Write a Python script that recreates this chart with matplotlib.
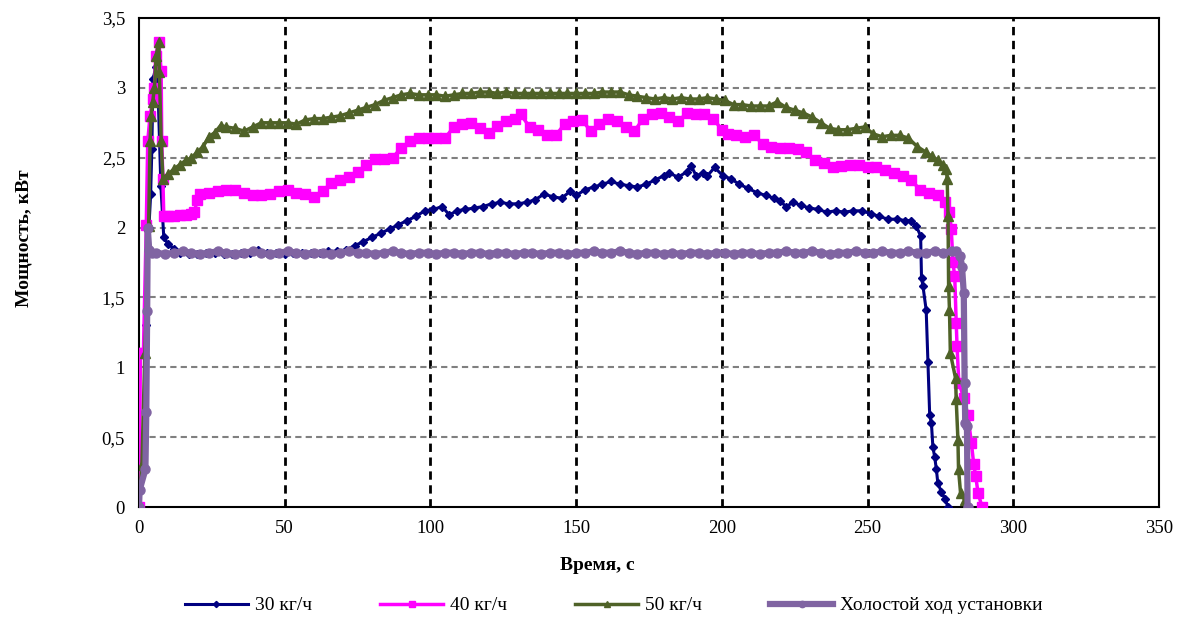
import matplotlib
matplotlib.use("Agg")
import matplotlib.pyplot as plt
from matplotlib.ticker import FixedLocator, FuncFormatter

plt.rcParams['font.family'] = ['Liberation Serif', 'DejaVu Serif']

# --------------------
# Data
# --------------------
# 30 kg/h
t30 = [0, 1.5, 2.5, 3.4, 4.0, 4.4, 4.8, 5.8, 6.5, 7.5, 8.5, 10, 12, 14, 17, 20, 23, 26, 29, 32,
       35, 38, 41, 44, 47, 50, 53, 56, 59, 62, 65, 68, 71, 74, 77, 80, 83, 86, 89, 92,
       95, 98, 101, 104, 106.5, 109, 112, 115, 118, 121, 124, 127, 130, 133, 136, 139, 142, 145, 148, 150,
       153, 156, 159, 162, 165, 168, 171, 174, 177, 180, 182, 185, 188, 189.5, 191.2, 193.5, 195, 197.5, 200.4, 203,
       206, 209, 212, 215, 218, 220, 222, 224.5, 227, 230, 233, 236, 239, 242, 245, 248, 251, 254, 257, 260,
       263, 265, 266.7, 268.2, 268.5, 269, 270.1, 270.7, 271.3, 271.9, 272.4, 273, 273.6, 274.1, 275.3, 276.5, 277.6]
p30 = [0, 0.5, 1.3, 2.0, 2.24, 2.56, 3.06, 3.15, 3.0, 2.3, 1.93, 1.88, 1.85, 1.82, 1.81, 1.81, 1.82, 1.82, 1.81, 1.81,
       1.82, 1.82, 1.84, 1.82, 1.82, 1.81, 1.82, 1.82, 1.82, 1.82, 1.83, 1.83, 1.84, 1.87, 1.90, 1.93, 1.96, 1.99, 2.02, 2.05,
       2.08, 2.12, 2.13, 2.15, 2.09, 2.12, 2.13, 2.14, 2.15, 2.17, 2.18, 2.17, 2.17, 2.18, 2.20, 2.24, 2.22, 2.21, 2.26, 2.23,
       2.27, 2.29, 2.31, 2.33, 2.31, 2.30, 2.29, 2.31, 2.34, 2.37, 2.39, 2.36, 2.40, 2.44, 2.37, 2.39, 2.37, 2.43, 2.37, 2.35,
       2.31, 2.28, 2.25, 2.23, 2.21, 2.19, 2.15, 2.18, 2.16, 2.14, 2.13, 2.11, 2.12, 2.11, 2.12, 2.12, 2.10, 2.08, 2.06, 2.06,
       2.05, 2.05, 2.01, 1.94, 1.64, 1.58, 1.41, 1.04, 0.66, 0.60, 0.43, 0.36, 0.27, 0.17, 0.11, 0.06, 0.0]

# 40 kg/h
t40 = [0, 0.5, 1.5, 2.5, 3.0, 3.8, 4.7, 5.3, 5.7, 6.8, 7.6, 7.8, 8.2, 8.5, 10, 12, 14, 16, 18, 19,
       20, 21, 24, 27, 30, 33, 36, 39, 42, 45, 48, 51, 54, 57, 60, 63, 66, 69, 72, 75,
       78, 81, 84, 87, 90, 93, 96, 99, 102, 105, 108, 111, 114, 117, 120, 123, 126, 129, 131, 134,
       137, 140, 143, 146, 149, 152, 155, 158, 161, 164, 167, 170, 173, 176, 179, 182, 185, 188, 191, 194,
       197, 200, 202, 205, 208, 211, 214, 217, 220, 223, 226, 229, 232, 235, 238, 241, 244, 247, 250, 253,
       256, 259, 262, 265, 268, 271, 274, 276.5, 278.1, 278.7, 279.3, 279.9, 280.4, 280.7, 281.3, 283, 284.4, 285.6, 286.4, 287.1,
       287.9, 289.3]
p40 = [0, 1.10, 1.10, 2.02, 2.62, 2.80, 2.92, 3.00, 3.23, 3.33, 3.12, 2.62, 2.35, 2.08, 2.08, 2.08, 2.09, 2.09, 2.10, 2.11,
       2.20, 2.24, 2.25, 2.26, 2.27, 2.27, 2.25, 2.23, 2.23, 2.24, 2.26, 2.27, 2.25, 2.24, 2.22, 2.26, 2.32, 2.34, 2.36, 2.40,
       2.45, 2.49, 2.49, 2.50, 2.57, 2.62, 2.64, 2.64, 2.64, 2.64, 2.72, 2.74, 2.75, 2.71, 2.68, 2.73, 2.76, 2.78, 2.81, 2.72,
       2.70, 2.66, 2.66, 2.74, 2.76, 2.77, 2.69, 2.74, 2.78, 2.76, 2.72, 2.69, 2.78, 2.81, 2.82, 2.79, 2.76, 2.82, 2.81, 2.81,
       2.78, 2.70, 2.67, 2.66, 2.65, 2.66, 2.60, 2.58, 2.57, 2.57, 2.56, 2.54, 2.48, 2.46, 2.43, 2.44, 2.45, 2.45, 2.43, 2.43,
       2.41, 2.39, 2.37, 2.34, 2.27, 2.25, 2.23, 2.18, 2.11, 1.99, 1.75, 1.65, 1.32, 1.15, 0.89, 0.78, 0.66, 0.46, 0.31, 0.22,
       0.10, 0.0]

# 50 kg/h
t50 = [0, 1, 2, 3.3, 3.8, 4.2, 4.7, 5.3, 5.9, 6.8, 7.0, 7.6, 8.2, 10, 12, 14, 16, 18, 20, 22,
       24, 26, 28, 30, 33, 36, 39, 42, 45, 48, 51, 54, 57, 60, 63, 66, 69, 72, 75, 78,
       81, 84, 87, 90, 93, 96, 99, 102, 105, 108, 111, 114, 117, 120, 123, 126, 129, 132, 135, 138,
       141, 144, 147, 150, 153, 156, 159, 162, 165, 168, 171, 174, 177, 180, 183, 186, 189, 192, 195, 198,
       201, 204, 207, 210, 213, 216, 219, 222, 225, 228, 231, 234, 237, 240, 243, 246, 249, 252, 255, 258,
       261, 264, 267, 270, 272, 274, 276, 277, 277.3, 277.6, 277.8, 278.1, 278.4, 280.2, 280.4, 281, 281.2, 281.9, 283.3, 283.6]
p50 = [0, 0.3, 1.1, 2.01, 2.62, 2.80, 2.90, 3.00, 3.23, 3.33, 3.11, 2.62, 2.35, 2.38, 2.42, 2.45, 2.48, 2.50, 2.54, 2.58,
       2.65, 2.68, 2.73, 2.72, 2.71, 2.69, 2.72, 2.75, 2.75, 2.75, 2.75, 2.74, 2.77, 2.78, 2.78, 2.79, 2.80, 2.82, 2.84, 2.86,
       2.88, 2.91, 2.93, 2.95, 2.96, 2.95, 2.95, 2.95, 2.94, 2.95, 2.96, 2.96, 2.97, 2.97, 2.96, 2.97, 2.96, 2.96, 2.96, 2.96,
       2.96, 2.96, 2.96, 2.96, 2.96, 2.96, 2.97, 2.97, 2.97, 2.95, 2.94, 2.93, 2.92, 2.93, 2.92, 2.93, 2.92, 2.92, 2.93, 2.92,
       2.91, 2.88, 2.88, 2.87, 2.87, 2.87, 2.90, 2.86, 2.84, 2.82, 2.79, 2.75, 2.71, 2.70, 2.70, 2.71, 2.72, 2.67, 2.65, 2.66,
       2.66, 2.64, 2.58, 2.54, 2.51, 2.48, 2.45, 2.42, 2.35, 2.08, 1.58, 1.41, 1.10, 0.92, 0.77, 0.48, 0.27, 0.10, 0.05, 0.0]

# idle run
t0 = [0, 0.2, 2.2, 2.5, 2.8, 3.0, 3.5, 4.5, 6, 9, 12, 15, 18, 21, 24, 27, 30, 33, 36, 39,
      42, 45, 48, 51, 54, 57, 60, 63, 66, 69, 72, 75, 78, 81, 84, 87, 90, 93, 96, 99,
      102, 105, 108, 111, 114, 117, 120, 123, 126, 129, 132, 135, 138, 141, 144, 147, 150, 153, 156, 159,
      162, 165, 168, 171, 174, 177, 180, 183, 186, 189, 192, 195, 198, 201, 204, 207, 210, 213, 216, 219,
      222, 225, 228, 231, 234, 237, 240, 243, 246, 249, 252, 255, 258, 261, 264, 267, 270, 273, 276, 279,
      280.4, 281.8, 282.4, 283.0, 283.3, 283.5, 284.1, 284.3]
p0 = [0, 0.12, 0.27, 0.68, 1.40, 2.00, 1.84, 1.82, 1.82, 1.81, 1.82, 1.83, 1.82, 1.81, 1.82, 1.83, 1.82, 1.81, 1.82, 1.83,
      1.82, 1.81, 1.82, 1.83, 1.82, 1.81, 1.82, 1.82, 1.81, 1.82, 1.83, 1.82, 1.82, 1.81, 1.82, 1.83, 1.82, 1.81, 1.82, 1.82,
      1.81, 1.82, 1.82, 1.81, 1.82, 1.82, 1.81, 1.82, 1.82, 1.81, 1.82, 1.82, 1.81, 1.82, 1.82, 1.81, 1.82, 1.82, 1.83, 1.82,
      1.82, 1.83, 1.82, 1.81, 1.82, 1.82, 1.81, 1.82, 1.81, 1.82, 1.82, 1.81, 1.82, 1.82, 1.81, 1.82, 1.82, 1.81, 1.82, 1.82,
      1.83, 1.82, 1.82, 1.83, 1.82, 1.81, 1.82, 1.82, 1.83, 1.82, 1.82, 1.83, 1.82, 1.82, 1.83, 1.82, 1.82, 1.83, 1.82, 1.83,
      1.83, 1.80, 1.72, 1.53, 0.89, 0.60, 0.58, 0.0]

labels = ["30 кг/ч", "40 кг/ч", "50 кг/ч", "Холостой ход установки"]
x_ticks = [0, 50, 100, 150, 200, 250, 300, 350]
y_ticks = [0, 0.5, 1, 1.5, 2, 2.5, 3, 3.5]

# --------------------
# Figure
# --------------------
fig = plt.figure(figsize=(11.81, 6.18), dpi=100)
ax = fig.add_axes([0.1177, 0.1796, 0.8637, 0.7913])

ax.plot(t30, p30, color='#000080', lw=2.2, marker='D', ms=4.5, label=labels[0], zorder=3)
ax.plot(t40, p40, color='#FF00FF', lw=2.5, marker='s', ms=6.5, mec='#FF00FF', label=labels[1], zorder=4)
ax.plot(t50, p50, color='#4F6228', lw=2.5, marker='^', ms=7, label=labels[2], zorder=5)
ax.plot(t0, p0, color='#8064A2', lw=4.5, marker='o', ms=6.5, label=labels[3], zorder=6)

ax.set_xlim(0, 350)
ax.set_ylim(0, 3.5)
ax.xaxis.set_major_locator(FixedLocator(x_ticks))
ax.yaxis.set_major_locator(FixedLocator(y_ticks))
ax.yaxis.set_major_formatter(FuncFormatter(lambda v, p: ('%g' % v).replace('.', ',')))
ax.tick_params(length=0, labelsize=13.5)
ax.tick_params(axis='x', pad=9)
ax.tick_params(axis='y', pad=10)

# grid: black vertical, grey horizontal
for x in x_ticks[1:-1]:
    ax.axvline(x, color='black', lw=2, ls=(0, (3, 2)), zorder=1)
for y in y_ticks[1:-1]:
    ax.axhline(y, color='#808080', lw=1.5, ls=(0, (3, 2)), zorder=1)

for s in ax.spines.values():
    s.set_linewidth(1.5)
    s.set_color('black')

fig.text(0.506, 0.085, "Время, с", ha='center', va='center', fontsize=14, fontweight='bold')
fig.text(0.02, 0.615, "Мощность, кВт", ha='center', va='center', rotation=90,
         fontsize=14, fontweight='bold')

leg = fig.legend(loc='center', bbox_to_anchor=(0.52, 0.02), ncol=4, frameon=False,
                 fontsize=14, handlelength=3.2, columnspacing=3.5, handletextpad=0.4,
                 markerscale=0.7)

fig.savefig("out.png", dpi=100)
